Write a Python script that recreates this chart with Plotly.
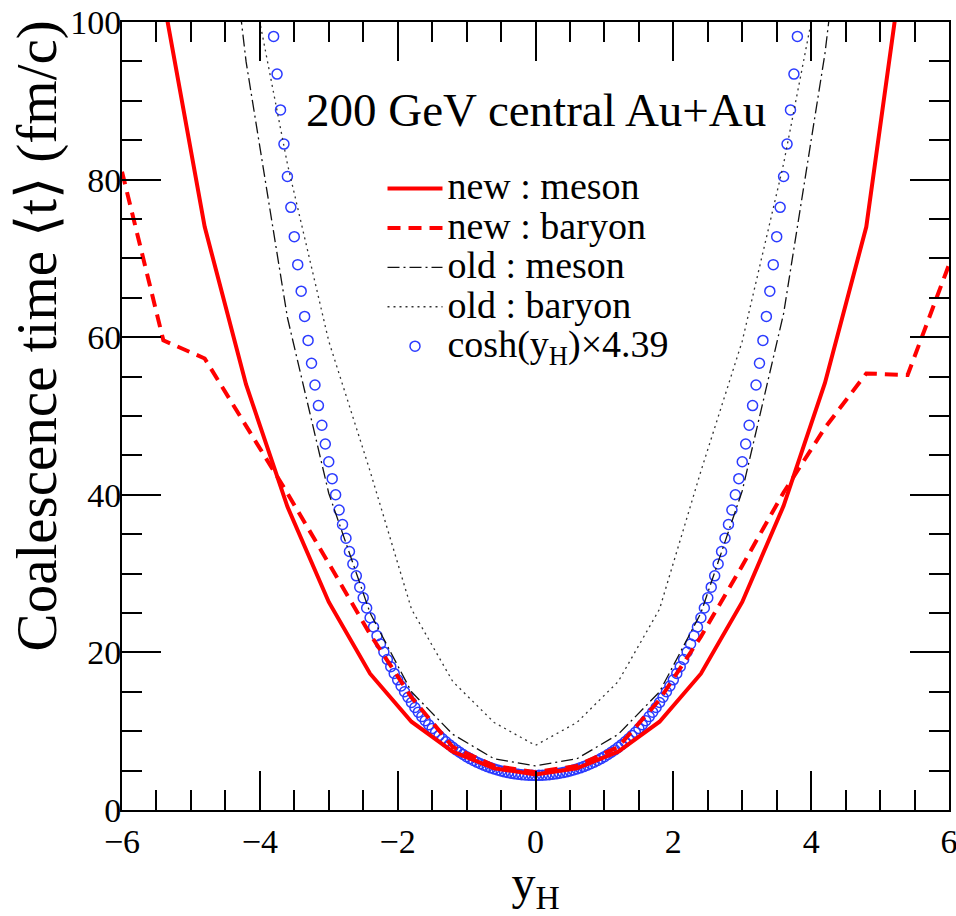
import plotly.graph_objects as go

# ---------------- data ----------------
y_new = [-6.0, -5.4, -4.8, -4.2, -3.6, -3.0, -2.4, -1.8, -1.2, -0.6, 0.0,
         0.6, 1.2, 1.8, 2.4, 3.0, 3.6, 4.2, 4.8, 5.4, 6.0]
t_new_meson = [140, 103, 74, 54, 38.5, 26.4, 17.3, 11.2, 7.4, 5.3, 4.5,
               5.3, 7.4, 11.2, 17.3, 26.4, 38.6, 54.2, 74, 113, 150]
t_new_baryon = [81, 59.6, 57.3, 48.8, 40.2, 31.3, 22.3, 14.3, 8.0, 5.6, 4.8,
                5.6, 8.0, 14.0, 22.0, 31.0, 40.3, 48.5, 55.4, 55.2, 69.2]

y_old = [-4.8, -4.2, -3.6, -3.0, -2.4, -1.8, -1.2, -0.6, 0.0,
         0.6, 1.2, 1.8, 2.4, 3.0, 3.6, 4.2, 4.8]
t_old_meson = [140, 95, 62.5, 40.2, 25.0, 15.0, 9.6, 6.5, 5.6,
               6.5, 9.6, 15.0, 25.0, 40.5, 63.0, 96, 140]
t_old_baryon = [150, 109, 82, 59.5, 43.0, 25.5, 16.3, 11.1, 8.2,
                11.1, 16.3, 25.5, 43.0, 59.5, 82, 109, 150]

# cosh(y_H) x 4.39 points (step 0.05 in y_H)
y_cosh_pos = [0.00, 0.05, 0.10, 0.15, 0.20, 0.25, 0.30, 0.35, 0.40, 0.45,
              0.50, 0.55, 0.60, 0.65, 0.70, 0.75, 0.80, 0.85, 0.90, 0.95,
              1.00, 1.05, 1.10, 1.15, 1.20, 1.25, 1.30, 1.35, 1.40, 1.45,
              1.50, 1.55, 1.60, 1.65, 1.70, 1.75, 1.80, 1.85, 1.90, 1.95,
              2.00, 2.05, 2.10, 2.15, 2.20, 2.25, 2.30, 2.35, 2.40, 2.45,
              2.50, 2.55, 2.60, 2.65, 2.70, 2.75, 2.80, 2.85, 2.90, 2.95,
              3.00, 3.05, 3.10, 3.15, 3.20, 3.25, 3.30, 3.35, 3.40, 3.45,
              3.50, 3.55, 3.60, 3.65, 3.70, 3.75, 3.80]
t_cosh_pos = [4.39, 4.40, 4.41, 4.44, 4.48, 4.53, 4.59, 4.66, 4.75, 4.84,
              4.95, 5.07, 5.20, 5.35, 5.51, 5.68, 5.87, 6.07, 6.29, 6.52,
              6.77, 7.04, 7.33, 7.63, 7.95, 8.29, 8.65, 9.04, 9.44, 9.87,
              10.33, 10.81, 11.32, 11.85, 12.42, 13.01, 13.64, 14.31, 15.00, 15.74,
              16.52, 17.33, 18.19, 19.10, 20.05, 21.06, 22.11, 23.23, 24.40, 25.63,
              26.92, 28.28, 29.72, 31.22, 32.81, 34.48, 36.23, 38.07, 40.01, 42.05,
              44.20, 46.45, 48.82, 51.32, 53.94, 56.70, 59.59, 62.64, 65.84, 69.21,
              72.76, 76.48, 80.39, 84.51, 88.84, 93.39, 98.17]

y_cosh = [-v for v in y_cosh_pos[:0:-1]] + y_cosh_pos
t_cosh = t_cosh_pos[:0:-1] + t_cosh_pos

x_ticks = [-6, -4, -2, 0, 2, 4, 6]
y_ticks = [0, 20, 40, 60, 80, 100]

FONT = "Liberation Serif"


def big(s):
    return '<span style="font-size:38px">' + s + '</span>'


fig = go.Figure()

fig.add_trace(go.Scatter(
    x=y_cosh, y=t_cosh, mode="markers", name=big("cosh(y<sub>H</sub>)×4.39"),
    marker=dict(symbol="circle-open", size=10, color="#2b3bff",
                line=dict(width=1.5, color="#2b3bff")),
    legendrank=5))
fig.add_trace(go.Scatter(
    x=y_new, y=t_new_meson, mode="lines", name=big("new : meson"),
    line=dict(color="#ff0000", width=4), legendrank=1))
fig.add_trace(go.Scatter(
    x=y_new, y=t_new_baryon, mode="lines", name=big("new : baryon"),
    line=dict(color="#ff0000", width=4, dash="13px,8px"), legendrank=2))
fig.add_trace(go.Scatter(
    x=y_old, y=t_old_meson, mode="lines", name=big("old : meson"),
    line=dict(color="#111111", width=1.3, dash="12px,4px,2px,4px"), legendrank=3))
fig.add_trace(go.Scatter(
    x=y_old, y=t_old_baryon, mode="lines", name=big("old : baryon"),
    line=dict(color="#333333", width=1.3, dash="2px,4px"), legendrank=4))

axis_common = dict(
    showline=True, linecolor="black", linewidth=2, mirror="allticks",
    ticks="inside", ticklen=39, tickwidth=1.5, tickcolor="black",
    showgrid=False, zeroline=False, automargin=False,
    ticklabeloverflow="allow",
    tickfont=dict(family=FONT, size=34, color="black"),
)

fig.update_xaxes(
    range=[-6, 6], tickvals=x_ticks,
    minor=dict(dtick=0.5, ticks="inside", ticklen=20, tickwidth=1.5, tickcolor="black"),
    title=dict(text="y<sub>H</sub>", font=dict(family=FONT, size=48, color="black"), standoff=10),
    **axis_common)
fig.update_yaxes(
    range=[0, 100], tickvals=y_ticks, ticklabelstandoff=-8,
    minor=dict(dtick=5, ticks="inside", ticklen=20, tickwidth=1.5, tickcolor="black"),
    **axis_common)

fig.add_annotation(
    text="Coalescence time ⟨t⟩ (fm/c)", textangle=-90,
    xref="paper", yref="paper", x=-0.103, y=1.005, xanchor="center", yanchor="top",
    showarrow=False, font=dict(family=FONT, size=57, color="black"))

fig.add_annotation(
    text="200 GeV central Au+Au",
    xref="paper", yref="paper", x=0.5, y=0.888, xanchor="center", yanchor="middle",
    showarrow=False, font=dict(family=FONT, size=47, color="black"))

fig.update_layout(
    width=956, height=916,
    margin=dict(l=122, r=7, t=22, b=106),
    paper_bgcolor="white", plot_bgcolor="white",
    showlegend=True,
    legend=dict(x=0.315, y=0.82, xanchor="left", yanchor="top",
                bgcolor="rgba(0,0,0,0)", borderwidth=0,
                font=dict(family=FONT, size=28, color="black"),
                itemwidth=55, tracegroupgap=0),
)

fig.write_html("out.html")
